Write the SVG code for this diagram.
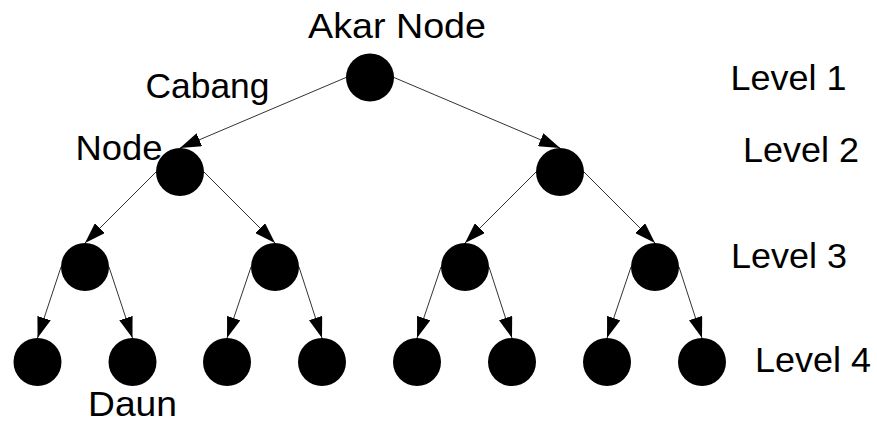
<svg xmlns="http://www.w3.org/2000/svg" width="877" height="423" viewBox="0 0 877 423">
<style>
.n{fill:#000}
.e{stroke:#333;stroke-width:1;fill:none;marker-end:url(#ah)}
.t{font-family:"Liberation Sans",Arial,sans-serif;font-size:35px;fill:#000}
</style>
<defs>
<marker id="ah" viewBox="0 0 21 14" refX="21" refY="7" markerWidth="21" markerHeight="14" markerUnits="userSpaceOnUse" orient="auto">
<path d="M0,0 L21,7 L0,14 z" fill="#000"/>
</marker>
</defs>
<rect width="877" height="423" fill="#fff"/>
<g id="connectors">
<line class="e" x1="346" y1="77.5" x2="180" y2="148"/>
<line class="e" x1="394" y1="77.5" x2="560" y2="148"/>
<line class="e" x1="156" y1="172" x2="85" y2="243"/>
<line class="e" x1="204" y1="172" x2="275" y2="243"/>
<line class="e" x1="536" y1="172" x2="465" y2="243"/>
<line class="e" x1="584" y1="172" x2="655" y2="243"/>
<line class="e" x1="61" y1="267" x2="37.5" y2="338"/>
<line class="e" x1="109" y1="267" x2="132.5" y2="338"/>
<line class="e" x1="251" y1="267" x2="227" y2="338"/>
<line class="e" x1="299" y1="267" x2="322" y2="338"/>
<line class="e" x1="441" y1="267" x2="417" y2="338"/>
<line class="e" x1="489" y1="267" x2="512" y2="338"/>
<line class="e" x1="631" y1="267" x2="607" y2="338"/>
<line class="e" x1="679" y1="267" x2="702" y2="338"/>
</g>
<g id="root"><circle class="n" cx="370" cy="77.5" r="24"/></g>
<g id="n2a"><circle class="n" cx="180" cy="172" r="24"/></g>
<g id="n2b"><circle class="n" cx="560" cy="172" r="24"/></g>
<g id="n3a"><circle class="n" cx="85" cy="267" r="24"/></g>
<g id="n3b"><circle class="n" cx="275" cy="267" r="24"/></g>
<g id="n3c"><circle class="n" cx="465" cy="267" r="24"/></g>
<g id="n3d"><circle class="n" cx="655" cy="267" r="24"/></g>
<g id="n4a"><circle class="n" cx="37.5" cy="362" r="24"/></g>
<g id="n4b"><circle class="n" cx="132.5" cy="362" r="24"/></g>
<g id="n4c"><circle class="n" cx="227" cy="362" r="24"/></g>
<g id="n4d"><circle class="n" cx="322" cy="362" r="24"/></g>
<g id="n4e"><circle class="n" cx="417" cy="362" r="24"/></g>
<g id="n4f"><circle class="n" cx="512" cy="362" r="24"/></g>
<g id="n4g"><circle class="n" cx="607" cy="362" r="24"/></g>
<g id="n4h"><circle class="n" cx="702" cy="362" r="24"/></g>
<g id="labels">
<text class="t" x="308" y="38" textLength="178" lengthAdjust="spacingAndGlyphs">Akar Node</text>
<text class="t" x="145.5" y="98" textLength="124" lengthAdjust="spacingAndGlyphs">Cabang</text>
<text class="t" x="75.5" y="160" textLength="87" lengthAdjust="spacingAndGlyphs">Node</text>
<text class="t" x="88" y="416" textLength="89" lengthAdjust="spacingAndGlyphs">Daun</text>
<text class="t" x="730.5" y="90" textLength="116" lengthAdjust="spacingAndGlyphs">Level 1</text>
<text class="t" x="743" y="162" textLength="116" lengthAdjust="spacingAndGlyphs">Level 2</text>
<text class="t" x="731" y="268" textLength="116" lengthAdjust="spacingAndGlyphs">Level 3</text>
<text class="t" x="755" y="372" textLength="116" lengthAdjust="spacingAndGlyphs">Level 4</text>
</g>
</svg>
